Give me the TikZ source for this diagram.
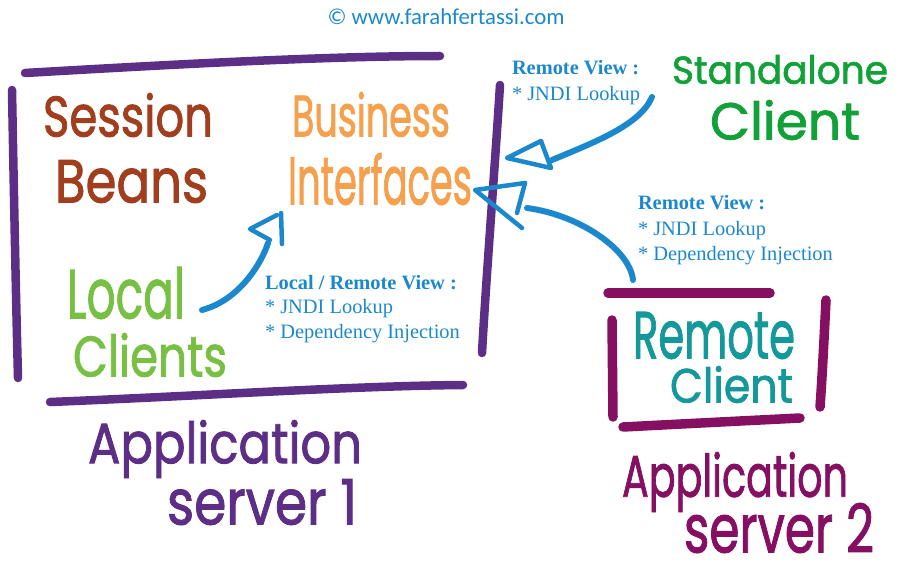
\documentclass[tikz,border=0pt]{standalone}
\usepackage{fontspec}
\setmainfont{Liberation Serif}
\newfontfamily\handfont{Poppins}[FakeBold=1.6]
\newfontfamily\webfont{Carlito}
\usepackage{graphicx}

% hand-lettered label stretched to a given ink box (width, height)
\newcommand{\handbox}[3]{\resizebox*{#1pt}{#2pt}{\handfont #3}}

\definecolor{serverpurple}{HTML}{5C2E85}
\definecolor{servermagenta}{HTML}{850F61}
\definecolor{beanbrown}{HTML}{A03E1E}
\definecolor{ifaceorange}{HTML}{F4A04C}
\definecolor{localgreen}{HTML}{78C043}
\definecolor{standgreen}{HTML}{12A038}
\definecolor{remoteteal}{HTML}{15989A}
\definecolor{noteblue}{HTML}{1B88CE}

\tikzset{
  handtxt/.style={inner sep=0pt, outer sep=0pt, anchor=north west},
  notetxt/.style={inner sep=0pt, outer sep=0pt, anchor=base west, text=noteblue,
                  font=\fontsize{20.4}{24}\selectfont},
  wallpen/.style={line width=8.5pt, line cap=round, draw=serverpurple},
  wallpentwo/.style={line width=9.5pt, line cap=round, draw=servermagenta},
  bluepen/.style={line width=6pt, line cap=round, line join=round, draw=noteblue},
  bluehead/.style={line width=4.5pt, line cap=round, line join=round, draw=noteblue},
}

\begin{document}
\begin{tikzpicture}[x=1pt,y=-1pt]
\useasboundingbox (0,0) rectangle (901,567);

% site credit
\node[inner sep=0pt, text=noteblue] (credit) at (446,17)
  {\resizebox{237pt}{!}{\webfont\fontsize{22}{24}\selectfont \textcopyright{} www.farahfertassi.com}};

% ---- application server 1 frame ----
\draw[wallpen] (25,73) .. controls (180,64) and (330,56) .. (440,56);
\draw[wallpen] (12,90) .. controls (14,200) and (16,300) .. (18,378);
\draw[wallpen] (500,85) .. controls (494,180) and (486,280) .. (482,353);
\draw[wallpen] (50,402) .. controls (200,396) and (350,386) .. (463,385);

% ---- application server 2 frame ----
\draw[wallpentwo] (608,293) -- (770,293);
\draw[wallpentwo] (612,320) -- (613,417);
\draw[wallpentwo] (826,300) .. controls (824,340) and (822,380) .. (820,407);
\draw[wallpentwo] (623,427) .. controls (700,423) and (760,420) .. (800,418);

% ---- hand-lettered labels ----
\node[handtxt, text=beanbrown] (session) at (43,93) {\handbox{170}{44}{Session}};
\node[handtxt, text=beanbrown] (beans) at (55,160) {\handbox{153}{43}{Beans}};
\node[handtxt, text=ifaceorange] (business) at (292,92) {\handbox{158}{45}{Business}};
\node[handtxt, text=ifaceorange] (interfaces) at (288,153) {\handbox{184}{52}{Interfaces}};
\node[handtxt, text=localgreen] (local) at (67,267) {\handbox{118}{52}{Local}};
\node[handtxt, text=localgreen] (clients) at (73,333) {\handbox{154}{44}{Clients}};
\node[handtxt, text=standgreen] (standalone) at (672,55) {\handbox{216}{29}{Standalone}};
\node[handtxt, text=standgreen] (standclient) at (710,100) {\handbox{150}{40}{Client}};
\node[handtxt, text=remoteteal] (remote) at (633,312) {\handbox{162}{47}{Remote}};
\node[handtxt, text=remoteteal] (remoteclient) at (670,366) {\handbox{123}{37}{Client}};
\node[handtxt, text=serverpurple] (appone) at (88,420) {\handbox{274}{58}{Application}};
\node[handtxt, text=serverpurple] (serverone) at (167,479) {\handbox{190}{46}{server 1}};
\node[handtxt, text=servermagenta] (apptwo) at (622,452) {\handbox{226}{60}{Application}};
\node[handtxt, text=servermagenta] (servertwo) at (684,503) {\handbox{190}{50}{server 2}};

% ---- access notes ----
\node[notetxt] (sa-title) at (512,75) {\textbf{Remote View :}};
\node[notetxt] (sa-jndi) at (512,100) {* JNDI Lookup};

\node[notetxt] (lc-title) at (265,289) {\textbf{Local / Remote View :}};
\node[notetxt] (lc-jndi) at (265,313) {* JNDI Lookup};
\node[notetxt] (lc-di) at (265,338) {* Dependency Injection};

\node[notetxt] (rc-title) at (638,209) {\textbf{Remote View :}};
\node[notetxt] (rc-jndi) at (638,235) {* JNDI Lookup};
\node[notetxt] (rc-di) at (638,260) {* Dependency Injection};

% ---- connectors ----
% local clients -> business interfaces
\coordinate (lc-from) at (202,310);
\coordinate (lc-to) at (268,243);
\draw[bluepen] (lc-from) .. controls (240,300) and (262,262) .. (lc-to);
\draw[bluehead] (277,215) -- (250,229) -- (270,240);
\draw[bluehead] (281,213) -- (282,244);

% standalone client -> business interfaces
\coordinate (sa-from) at (652,97);
\coordinate (sa-to) at (552,160);
\draw[bluepen] (sa-from) .. controls (640,125) and (595,142) .. (sa-to);
\draw[bluehead] (541,141) -- (507,158) -- (551,168) -- cycle;

% remote client -> business interfaces
\coordinate (rc-from) at (633,280);
\coordinate (rc-to) at (527,208);
\draw[bluepen] (rc-from) .. controls (630,250) and (580,215) .. (rc-to);
\draw[bluehead] (525,183) -- (475,190) -- (522,228);
\draw[bluehead] (525,183) -- (517,213);
\end{tikzpicture}
\end{document}
